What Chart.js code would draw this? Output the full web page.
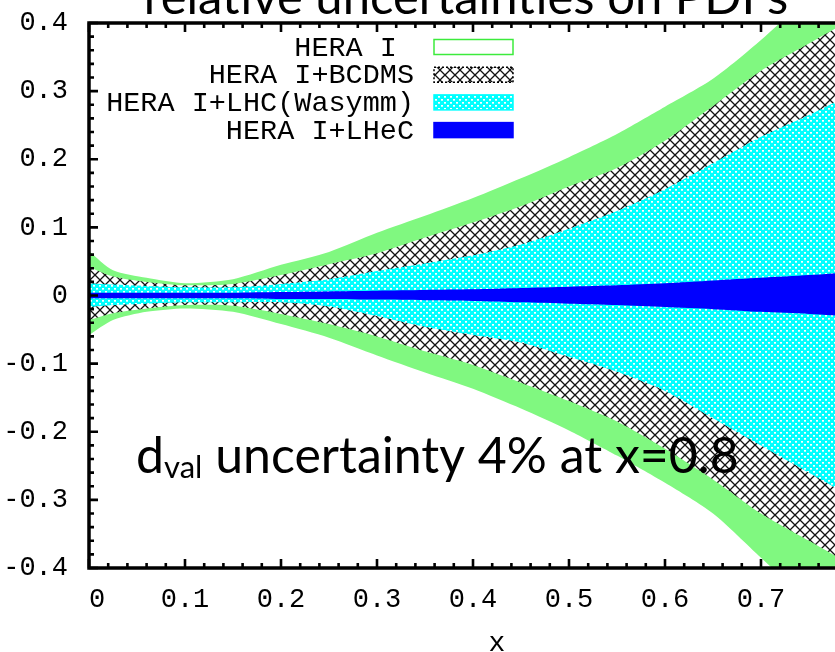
<!DOCTYPE html>
<html>
<head>
<meta charset="utf-8">
<title>relative uncertainties on PDFs</title>
<script src="https://cdn.jsdelivr.net/npm/chart.js@4.4.1/dist/chart.umd.min.js"></script>
<style>
  html, body { margin: 0; padding: 0; background: #fff; overflow: hidden; }
  #wrap { width: 835px; height: 652px; overflow: hidden; position: relative; }
  canvas { display: block; }
</style>
</head>
<body>
<div id="wrap"><canvas id="pdf" width="932" height="652"></canvas></div>
<script>
// x grid shared by all bands
const xs     = [0, 0.025, 0.06, 0.1, 0.15, 0.2, 0.25, 0.3, 0.35, 0.4, 0.45, 0.5, 0.55, 0.6, 0.65, 0.7, 0.75, 0.8];

// HERA I
const heraUp = [0.065, 0.037, 0.026, 0.018, 0.024, 0.045, 0.064, 0.092, 0.117, 0.143, 0.172, 0.203, 0.237, 0.277, 0.318, 0.375, 0.44, 0.51];
const heraDn = [-0.058, -0.036, -0.024, -0.019, -0.024, -0.042, -0.062, -0.088, -0.113, -0.137, -0.166, -0.198, -0.235, -0.275, -0.32, -0.385, -0.45, -0.52];
// HERA I+BCDMS
const bcdUp  = [0.042, 0.028, 0.020, 0.015, 0.017, 0.030, 0.046, 0.062, 0.085, 0.107, 0.131, 0.160, 0.187, 0.227, 0.278, 0.33, 0.37, 0.41];
const bcdDn  = [-0.036, -0.026, -0.019, -0.014, -0.015, -0.027, -0.042, -0.060, -0.082, -0.102, -0.128, -0.155, -0.185, -0.225, -0.27, -0.32, -0.36, -0.40];
// HERA I+LHC(Wasymm)
const lhcUp  = [0.018, 0.016, 0.014, 0.012, 0.012, 0.017, 0.024, 0.036, 0.047, 0.059, 0.075, 0.098, 0.124, 0.156, 0.194, 0.233, 0.265, 0.30];
const lhcDn  = [-0.017, -0.014, -0.012, -0.010, -0.010, -0.010, -0.016, -0.030, -0.046, -0.058, -0.069, -0.090, -0.112, -0.140, -0.180, -0.220, -0.260, -0.30];
// HERA I+LHeC
const lheUp  = [0.004, 0.004, 0.004, 0.004, 0.004, 0.005, 0.006, 0.007, 0.008, 0.009, 0.011, 0.013, 0.015, 0.018, 0.022, 0.026, 0.030, 0.035];
const lheDn  = [-0.004, -0.004, -0.004, -0.004, -0.004, -0.005, -0.005, -0.006, -0.007, -0.008, -0.010, -0.012, -0.014, -0.017, -0.020, -0.024, -0.027, -0.031];

const xTicks = [0, 0.1, 0.2, 0.3, 0.4, 0.5, 0.6, 0.7];
const yTicks = [-0.4, -0.3, -0.2, -0.1, 0, 0.1, 0.2, 0.3, 0.4];

const MONO = '"Liberation Mono", "DejaVu Sans Mono", monospace';
const SANS = 'Lato, "Open Sans", sans-serif';

const canvas = document.getElementById('pdf');
const ctx = canvas.getContext('2d');

function tile(w, h, paint) {
  const c = document.createElement('canvas');
  c.width = w; c.height = h;
  paint(c.getContext('2d'));
  return ctx.createPattern(c, 'repeat');
}

// black cross-hatch on white
const hatch = tile(10, 10, g => {
  g.fillStyle = '#fff';
  g.fillRect(0, 0, 10, 10);
  g.strokeStyle = '#111';
  g.lineWidth = 1.3;
  g.beginPath();
  g.moveTo(-1, -1); g.lineTo(11, 11);
  g.moveTo(11, -1); g.lineTo(-1, 11);
  g.stroke();
});

// cyan with a lattice of white dots
const cyanDots = tile(6, 6, g => {
  g.fillStyle = '#00ffff';
  g.fillRect(0, 0, 6, 6);
  g.fillStyle = '#ffffff';
  g.fillRect(0, 0, 2, 1);
  g.fillRect(3, 3, 2, 1);
  g.fillStyle = '#b0ffff';
  g.fillRect(0, 1, 2, 1);
  g.fillRect(3, 4, 2, 1);
});

const pts = arr => arr.map((v, i) => ({ x: xs[i], y: v }));

function band(label, up, dn, fill, order, box) {
  const common = { borderWidth: 0, pointRadius: 0, tension: 0.25, order };
  return [
    Object.assign({ label, data: pts(up), backgroundColor: fill, fill: '+1', box }, common),
    Object.assign({ label: label + ' low', data: pts(dn), fill: false }, common)
  ];
}

const datasets = [
  ...band('HERA I ', heraUp, heraDn, 'rgb(128,248,128)', 4, { fill: '#fff', stroke: 'rgb(60,235,60)', dash: [] }),
  ...band('HERA I+BCDMS', bcdUp, bcdDn, hatch, 3, { fill: hatch, stroke: '#000', dash: [2, 2] }),
  ...band('HERA I+LHC(Wasymm)', lhcUp, lhcDn, cyanDots, 2, { fill: cyanDots, stroke: '#00ffff', dash: [] }),
  ...band('HERA I+LHeC', lheUp, lheDn, '#0000ff', 1, { fill: '#0000ff', stroke: '#0000ff', dash: [] })
];

const fmt = v => {
  const r = Math.round(v * 10) / 10;
  return r === 0 ? '0' : String(r);
};

// inward ticks on all sides plus the plot frame
const frame = {
  id: 'frame',
  afterDatasetsDraw(chart) {
    const { ctx, chartArea: a, scales: { x, y } } = chart;
    ctx.save();
    ctx.strokeStyle = '#000';
    ctx.beginPath();
    for (let i = 0; i <= 42; i++) {
      const px = x.getPixelForValue(i * 0.02);
      const len = i % 5 === 0 ? 9 : 5;
      ctx.moveTo(px, a.bottom); ctx.lineTo(px, a.bottom - len);
      ctx.moveTo(px, a.top); ctx.lineTo(px, a.top + len);
    }
    for (let i = 0; i <= 40; i++) {
      const py = y.getPixelForValue(-0.4 + i * 0.02);
      const len = i % 5 === 0 ? 9 : 5;
      ctx.moveTo(a.left, py); ctx.lineTo(a.left + len, py);
      ctx.moveTo(a.right, py); ctx.lineTo(a.right - len, py);
    }
    ctx.lineWidth = 2.6;
    ctx.stroke();
    ctx.lineWidth = 3.5;
    ctx.strokeRect(a.left, a.top, a.right - a.left, a.bottom - a.top);
    ctx.restore();
  }
};

// key in the upper left, text right-aligned before each swatch
const key = {
  id: 'key',
  afterDraw(chart) {
    const { ctx } = chart;
    const rows = chart.data.datasets.filter(d => d.box);
    ctx.save();
    ctx.font = '28.5px ' + MONO;
    ctx.textAlign = 'right';
    ctx.textBaseline = 'middle';
    rows.forEach((d, i) => {
      const cy = 47 + i * 27.7;
      ctx.fillStyle = '#000';
      ctx.fillText(d.label, 414, cy + 1);
      ctx.fillStyle = d.box.fill;
      ctx.fillRect(434, cy - 7.5, 79, 15);
      ctx.strokeStyle = d.box.stroke;
      ctx.lineWidth = 1.5;
      ctx.setLineDash(d.box.dash);
      ctx.strokeRect(434, cy - 7.5, 79, 15);
      ctx.setLineDash([]);
    });
    ctx.restore();
  }
};

// headline (clipped by the page top) and the d_val note
const notes = {
  id: 'notes',
  afterDraw(chart) {
    const { ctx } = chart;
    ctx.save();
    ctx.fillStyle = '#000';
    ctx.textBaseline = 'alphabetic';
    ctx.textAlign = 'center';
    ctx.font = '49px ' + SANS;
    ctx.fillText('relative uncertainties on PDFs', chart.width / 2, 14);

    ctx.textAlign = 'left';
    let tx = 136;
    const base = 473;
    ctx.font = '50px ' + SANS;
    ctx.fillText('d', tx, base);
    tx += ctx.measureText('d').width;
    ctx.font = '31px ' + SANS;
    ctx.fillText('val', tx, base + 5);
    tx += ctx.measureText('val').width;
    ctx.font = '50px ' + SANS;
    ctx.fillText(' uncertainty 4% at x=0.8', tx, base);
    ctx.restore();
  }
};

new Chart(canvas, {
  type: 'line',
  data: { datasets },
  options: {
    responsive: false,
    devicePixelRatio: 1,
    animation: false,
    layout: { padding: { left: 0, top: 23, right: 27, bottom: 0 } },
    plugins: { legend: { display: false }, tooltip: { enabled: false } },
    scales: {
      x: {
        type: 'linear',
        min: 0,
        max: 0.85,
        afterFit: s => { s.height = 84; s.paddingLeft = 0; s.paddingRight = 0; },
        afterBuildTicks: s => { s.ticks = xTicks.map(v => ({ value: v })); },
        grid: { display: false, drawTicks: false },
        border: { display: false },
        ticks: {
          padding: 16,
          maxRotation: 0,
          autoSkip: false,
          color: '#000',
          font: { family: MONO, size: 27 },
          callback: v => (v === 0 ? ' 0' : fmt(v))
        },
        title: {
          display: true,
          text: 'x',
          color: '#000',
          font: { family: MONO, size: 28 },
          padding: { top: 0, bottom: -8 }
        }
      },
      y: {
        min: -0.4,
        max: 0.4,
        afterFit: s => { s.width = 89; s.paddingTop = 0; s.paddingBottom = 0; },
        afterBuildTicks: s => { s.ticks = yTicks.map(v => ({ value: v })); },
        grid: { display: false, drawTicks: false },
        border: { display: false },
        ticks: {
          padding: 21,
          autoSkip: false,
          color: '#000',
          font: { family: MONO, size: 27 },
          callback: fmt
        }
      }
    }
  },
  plugins: [frame, key, notes]
});
</script>
</body>
</html>
